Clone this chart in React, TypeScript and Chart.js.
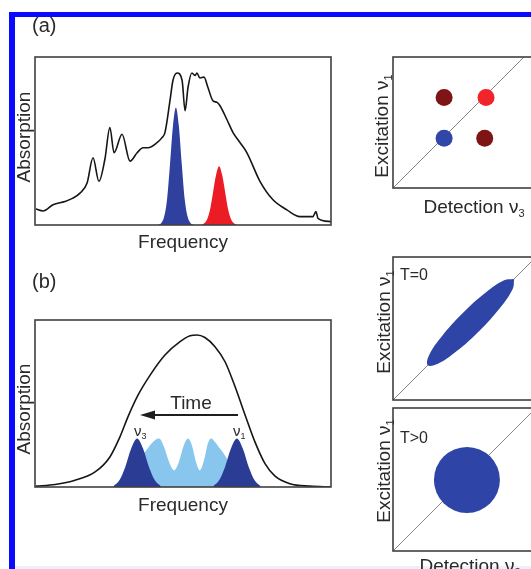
import React, { useEffect, useRef } from "react";
import { Chart, registerables } from "chart.js";

Chart.register(...registerables);

// ---------------- DATA ----------------
// Panel (a): broad absorption spectrum (frequency in arbitrary units 0..100, absorption 0..1)
const specAFreq = [0.3, 2.7, 6.1, 10.1, 12.8, 15.2, 17.6, 19.6, 21.6, 23.6, 25.3, 26.7, 29.4, 32.1, 34.5, 36.5, 38.2, 41.2, 42.9, 43.9, 45.6, 46.6, 48.0, 49.7, 50.7, 51.7, 53.0, 54.1, 54.7, 55.7, 57.1, 58.4, 60.1, 61.5, 62.5, 64.9, 66.9, 69.3, 71.6, 76.0, 80.4, 85.1, 89.5, 93.9, 94.9, 95.6, 100];
const specAAbs = [0.095, 0.083, 0.12, 0.14, 0.16, 0.19, 0.25, 0.40, 0.26, 0.39, 0.58, 0.43, 0.54, 0.38, 0.43, 0.46, 0.46, 0.49, 0.52, 0.55, 0.74, 0.86, 0.905, 0.86, 0.68, 0.82, 0.905, 0.89, 0.905, 0.875, 0.88, 0.82, 0.74, 0.73, 0.71, 0.625, 0.55, 0.49, 0.43, 0.26, 0.15, 0.09, 0.05, 0.05, 0.08, 0.04, 0.02];

// Panel (a): narrow excitation pulses (blue = nu1, red = nu3)
const bluePulseFreq = [41.6, 42.6, 43.6, 44.6, 45.6, 46.6, 47.6, 48.6, 49.6, 50.6, 51.6, 52.6, 53.6];
const bluePulseAbs = [0, 0.01, 0.047, 0.15, 0.36, 0.59, 0.70, 0.59, 0.36, 0.15, 0.047, 0.01, 0];
const redPulseFreq = [56.2, 57.2, 58.2, 59.2, 60.2, 61.2, 62.2, 63.2, 64.2, 65.2, 66.2, 67.2, 68.2];
const redPulseAbs = [0, 0.01, 0.036, 0.097, 0.20, 0.30, 0.35, 0.30, 0.20, 0.097, 0.036, 0.01, 0];

// Panel (a) 2D spectrum: cross peaks (detection nu3, excitation nu1)
const peak2DDet = [0.39, 0.71, 0.39, 0.70];
const peak2DExc = [0.69, 0.69, 0.38, 0.38];
const peak2DColor = ["#7f1416", "#f1232b", "#3246a8", "#7f1416"];

// Panel (b): inhomogeneous band
const specBFreq = [0.3, 6.8, 13.5, 20.3, 25.3, 28.7, 31.4, 34.8, 38.9, 43.9, 49.0, 52.4, 54.7, 57.4, 60.8, 64.2, 67.6, 71.0, 74.3, 77.7, 81.1, 86.1, 92.9, 100];
const specBAbs = [0.005, 0.015, 0.04, 0.09, 0.18, 0.30, 0.42, 0.55, 0.67, 0.79, 0.87, 0.905, 0.91, 0.895, 0.84, 0.75, 0.60, 0.43, 0.27, 0.14, 0.065, 0.02, 0.005, 0];

// Panel (b): spectral diffusion sub-bands
const darkLeftFreq = [26.5, 28.5, 30.5, 32.5, 34.5, 36.5, 38.5, 40.5, 42.5];
const darkLeftAbs = [0.005, 0.04, 0.12, 0.23, 0.29, 0.23, 0.12, 0.04, 0.005];
const darkRightFreq = [60.2, 62.2, 64.2, 66.2, 68.2, 70.2, 72.2, 74.2, 76.2];
const darkRightAbs = [0.005, 0.04, 0.12, 0.23, 0.29, 0.23, 0.12, 0.04, 0.005];
const lightFreq = [28.7, 32.1, 34.5, 36.8, 38.9, 40.5, 41.9, 43.6, 45.3, 47.0, 48.6, 50.3, 51.7, 53.0, 54.4, 55.7, 57.1, 58.4, 59.5, 60.8, 62.5, 64.5, 66.6, 69.3, 72.6];
const lightAbs = [0, 0.08, 0.14, 0.20, 0.25, 0.28, 0.29, 0.24, 0.15, 0.10, 0.15, 0.25, 0.29, 0.25, 0.15, 0.10, 0.16, 0.26, 0.29, 0.27, 0.23, 0.18, 0.12, 0.06, 0];

// Panel (b) 2D, T=0: elongated diagonal peak outline
const ellipseDet = [0.847, 0.777, 0.644, 0.485, 0.342, 0.253, 0.243, 0.314, 0.446, 0.605, 0.748, 0.837, 0.847];
const ellipseExc = [0.847, 0.837, 0.748, 0.605, 0.446, 0.314, 0.243, 0.253, 0.342, 0.485, 0.644, 0.777, 0.847];

// Panel (b) 2D, T>0: round peak
const roundDet = [0.517];
const roundExc = [0.497];

// Diagonal
const diagDet = [0, 1.2];
const diagExc = [0, 1.2];

// ---------------- STYLE ----------------
const FONT = '"Liberation Sans", Arial, Helvetica, sans-serif';
const TEXT = "#2a2a2a";
const BOX = "#404040";
const W = 560;
const H = 569;

type Part = { t: string; size: number; dy?: number };
type Label = { x: number; y: number; rot?: boolean; align?: "left" | "center"; parts: Part[] };

function pts(xs: number[], ys: number[]) {
  return xs.map((x, i) => ({ x, y: ys[i] }));
}

function drawLabel(ctx: CanvasRenderingContext2D, lab: Label) {
  ctx.save();
  ctx.translate(lab.x, lab.y);
  if (lab.rot) ctx.rotate(-Math.PI / 2);
  ctx.fillStyle = TEXT;
  ctx.textBaseline = "alphabetic";
  ctx.textAlign = "left";
  let total = 0;
  const widths = lab.parts.map((p) => {
    ctx.font = `${p.size}px ${FONT}`;
    const w = ctx.measureText(p.t).width;
    total += w;
    return w;
  });
  let cx = lab.align === "center" ? -total / 2 : 0;
  lab.parts.forEach((p, i) => {
    ctx.font = `${p.size}px ${FONT}`;
    ctx.fillText(p.t, cx, p.dy || 0);
    cx += widths[i];
  });
  ctx.restore();
}

function framePlugin(labels: Label[], arrow?: { x1: number; x2: number; y: number }) {
  return {
    id: "figFrame",
    afterDraw(chart: any) {
      const { ctx, chartArea: a } = chart;
      ctx.save();
      ctx.strokeStyle = BOX;
      ctx.lineWidth = 1.6;
      ctx.strokeRect(a.left, a.top, a.right - a.left, a.bottom - a.top);
      labels.forEach((l) => drawLabel(ctx, l));
      if (arrow) {
        ctx.strokeStyle = "#1e1e1e";
        ctx.fillStyle = "#1e1e1e";
        ctx.lineWidth = 2;
        ctx.beginPath();
        ctx.moveTo(arrow.x1, arrow.y);
        ctx.lineTo(arrow.x2 + 12, arrow.y);
        ctx.stroke();
        ctx.beginPath();
        ctx.moveTo(arrow.x2, arrow.y);
        ctx.lineTo(arrow.x2 + 15, arrow.y - 4.5);
        ctx.lineTo(arrow.x2 + 15, arrow.y + 4.5);
        ctx.closePath();
        ctx.fill();
      }
      ctx.restore();
    },
  };
}

function baseOptions(area: { l: number; t: number; r: number; b: number }, xmax: number, ymax: number) {
  return {
    responsive: false,
    animation: false as const,
    devicePixelRatio: 1,
    events: [],
    layout: {
      autoPadding: false,
      padding: { left: area.l, top: area.t, right: W - area.r, bottom: H - area.b },
    },
    plugins: { legend: { display: false }, tooltip: { enabled: false } },
    scales: {
      x: { type: "linear" as const, display: false, min: 0, max: xmax },
      y: { type: "linear" as const, display: false, min: 0, max: ymax },
    },
  };
}

const fillSet = (data: any[], color: string) => ({
  data,
  borderWidth: 0,
  borderColor: color,
  backgroundColor: color,
  fill: "origin",
  pointRadius: 0,
  cubicInterpolationMode: "monotone",
});

const diagSet = () => ({
  data: pts(diagDet, diagExc),
  borderColor: "#858585",
  borderWidth: 1,
  pointRadius: 0,
  fill: false,
  tension: 0,
});

const nuExc = (x: number, y: number): Label => ({
  x,
  y,
  rot: true,
  align: "center",
  parts: [
    { t: "Excitation ", size: 19 },
    { t: "\u03BD", size: 19 },
    { t: "1", size: 11, dy: 4 },
  ],
});
const nuDet = (x: number, y: number): Label => ({
  x,
  y,
  align: "center",
  parts: [
    { t: "Detection ", size: 19 },
    { t: "\u03BD", size: 19 },
    { t: "3", size: 11, dy: 4 },
  ],
});

function configs(): any[] {
  const aSpec = {
    type: "line",
    data: {
      datasets: [
        {
          data: pts(specAFreq, specAAbs),
          borderColor: "#161616",
          borderWidth: 1.6,
          pointRadius: 0,
          fill: false,
          cubicInterpolationMode: "monotone",
        },
        fillSet(pts(bluePulseFreq, bluePulseAbs), "#2f409e"),
        fillSet(pts(redPulseFreq, redPulseAbs), "#ec1c24"),
      ],
    },
    options: baseOptions({ l: 35, t: 57, r: 331, b: 225 }, 100, 1),
    plugins: [
      framePlugin([
        { x: 32, y: 32, parts: [{ t: "(a)", size: 20 }] },
        { x: 30, y: 137, rot: true, align: "center", parts: [{ t: "Absorption", size: 19 }] },
        { x: 183, y: 248, align: "center", parts: [{ t: "Frequency", size: 19 }] },
      ]),
    ],
  };

  const a2D = {
    type: "line",
    data: {
      datasets: [
        {
          data: pts(peak2DDet, peak2DExc),
          showLine: false,
          pointRadius: 8.5,
          pointHoverRadius: 8.5,
          pointBorderWidth: 0,
          pointBackgroundColor: peak2DColor,
          pointBorderColor: peak2DColor,
        },
        diagSet(),
      ],
    },
    options: baseOptions({ l: 393, t: 57, r: 540, b: 188 }, 1.122, 1),
    plugins: [framePlugin([nuExc(388, 126), nuDet(474, 213)])],
  };

  const bSpec = {
    type: "line",
    data: {
      datasets: [
        {
          data: pts(specBFreq, specBAbs),
          borderColor: "#161616",
          borderWidth: 1.6,
          pointRadius: 0,
          fill: false,
          cubicInterpolationMode: "monotone",
        },
        fillSet(pts(darkLeftFreq, darkLeftAbs), "#2b3c94"),
        fillSet(pts(darkRightFreq, darkRightAbs), "#2b3c94"),
        fillSet(pts(lightFreq, lightAbs), "#88c6ee"),
      ],
    },
    options: baseOptions({ l: 35, t: 320, r: 331, b: 487 }, 100, 1),
    plugins: [
      framePlugin(
        [
          { x: 32, y: 288, parts: [{ t: "(b)", size: 20 }] },
          { x: 30, y: 409, rot: true, align: "center", parts: [{ t: "Absorption", size: 19 }] },
          { x: 183, y: 511, align: "center", parts: [{ t: "Frequency", size: 19 }] },
          { x: 191, y: 409, align: "center", parts: [{ t: "Time", size: 19 }] },
          { x: 134, y: 436, parts: [{ t: "\u03BD", size: 15 }, { t: "3", size: 9, dy: 3 }] },
          { x: 233, y: 436, parts: [{ t: "\u03BD", size: 15 }, { t: "1", size: 9, dy: 3 }] },
        ],
        { x1: 238, x2: 140, y: 415 }
      ),
    ],
  };

  const bTop = {
    type: "line",
    data: {
      datasets: [
        {
          data: pts(ellipseDet, ellipseExc),
          borderWidth: 0,
          borderColor: "#2e44a6",
          backgroundColor: "#2e44a6",
          fill: "shape",
          pointRadius: 0,
          tension: 0.4,
        },
        diagSet(),
      ],
    },
    options: baseOptions({ l: 393, t: 257, r: 540, b: 400 }, 1.028, 1),
    plugins: [
      framePlugin([
        { x: 400, y: 280, parts: [{ t: "T=0", size: 16 }] },
        nuExc(390, 322),
      ]),
    ],
  };

  const bBot = {
    type: "line",
    data: {
      datasets: [
        {
          data: pts(roundDet, roundExc),
          showLine: false,
          pointRadius: 33,
          pointHoverRadius: 33,
          pointBorderWidth: 0,
          pointBackgroundColor: "#2e44a6",
          pointBorderColor: "#2e44a6",
        },
        diagSet(),
      ],
    },
    options: baseOptions({ l: 393, t: 408, r: 540, b: 551 }, 1.028, 1),
    plugins: [
      framePlugin([
        { x: 400, y: 443, parts: [{ t: "T>0", size: 16 }] },
        nuExc(390, 471),
        nuDet(470, 572),
      ]),
    ],
  };

  return [aSpec, a2D, bSpec, bTop, bBot];
}

function ChartLayer({ cfg }: { cfg: any }) {
  const ref = useRef<HTMLCanvasElement | null>(null);
  useEffect(() => {
    if (!ref.current) return;
    const chart = new Chart(ref.current, cfg);
    return () => chart.destroy();
  }, [cfg]);
  return (
    <canvas
      ref={ref}
      width={W}
      height={H}
      style={{ position: "absolute", left: 0, top: 0, width: W, height: H }}
    />
  );
}

const CFGS = configs();

export default function App() {
  return (
    <div
      style={{
        position: "absolute",
        left: 0,
        top: 0,
        width: 531,
        height: 569,
        overflow: "hidden",
        background: "#ffffff",
      }}
    >
      <div style={{ position: "absolute", left: 9, top: 12, width: 522, height: 5, background: "#0a0aff" }} />
      <div style={{ position: "absolute", left: 9, top: 12, width: 6, height: 557, background: "#0a0aff" }} />
      <div style={{ position: "absolute", left: 15, top: 566, width: 516, height: 3, background: "#eeeefc" }} />
      {CFGS.map((cfg, i) => (
        <ChartLayer key={i} cfg={cfg} />
      ))}
    </div>
  );
}
